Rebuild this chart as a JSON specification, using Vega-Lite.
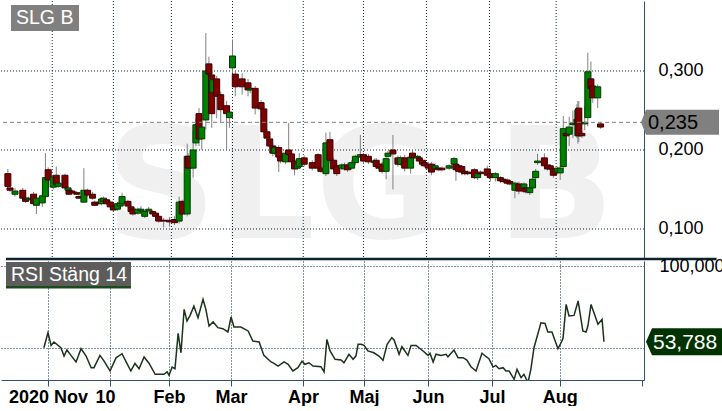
{
  "$schema": "https://vega.github.io/schema/vega-lite/v6.json",
  "background": "#ffffff",
  "padding": 0,
  "bounds": "flush",
  "spacing": 2,
  "config": {
    "view": {"stroke": null},
    "font": "Liberation Sans"
  },
  "datasets": {
    "candles": [
      {"t":0.6,"o":0.170,"h":0.176,"l":0.150,"c":0.154},
      {"t":1.3,"o":0.152,"h":0.155,"l":0.147,"c":0.149},
      {"t":2.9,"o":0.144,"h":0.152,"l":0.141,"c":0.148},
      {"t":5.4,"o":0.149,"h":0.152,"l":0.137,"c":0.139},
      {"t":6.3,"o":0.139,"h":0.141,"l":0.133,"c":0.135},
      {"t":7.3,"o":0.137,"h":0.141,"l":0.135,"c":0.139},
      {"t":8.9,"o":0.144,"h":0.147,"l":0.130,"c":0.132},
      {"t":9.8,"o":0.130,"h":0.145,"l":0.119,"c":0.139},
      {"t":11.7,"o":0.133,"h":0.146,"l":0.128,"c":0.142},
      {"t":12.7,"o":0.141,"h":0.196,"l":0.138,"c":0.165},
      {"t":13.6,"o":0.175,"h":0.178,"l":0.158,"c":0.162},
      {"t":15.2,"o":0.153,"h":0.168,"l":0.150,"c":0.166},
      {"t":16.2,"o":0.168,"h":0.179,"l":0.152,"c":0.156},
      {"t":16.8,"o":0.154,"h":0.160,"l":0.152,"c":0.158},
      {"t":19.0,"o":0.168,"h":0.170,"l":0.150,"c":0.152},
      {"t":20.0,"o":0.149,"h":0.154,"l":0.148,"c":0.152},
      {"t":20.3,"o":0.149,"h":0.151,"l":0.143,"c":0.144},
      {"t":21.3,"o":0.148,"h":0.150,"l":0.144,"c":0.146},
      {"t":22.8,"o":0.146,"h":0.148,"l":0.143,"c":0.144},
      {"t":23.5,"o":0.141,"h":0.143,"l":0.138,"c":0.139},
      {"t":25.1,"o":0.134,"h":0.177,"l":0.133,"c":0.149},
      {"t":26.3,"o":0.149,"h":0.151,"l":0.141,"c":0.143},
      {"t":27.9,"o":0.144,"h":0.147,"l":0.137,"c":0.139},
      {"t":28.6,"o":0.134,"h":0.136,"l":0.129,"c":0.130},
      {"t":29.5,"o":0.133,"h":0.135,"l":0.130,"c":0.132},
      {"t":30.8,"o":0.132,"h":0.140,"l":0.130,"c":0.138},
      {"t":31.4,"o":0.135,"h":0.141,"l":0.133,"c":0.139},
      {"t":32.4,"o":0.137,"h":0.139,"l":0.130,"c":0.132},
      {"t":33.6,"o":0.134,"h":0.136,"l":0.126,"c":0.128},
      {"t":34.6,"o":0.129,"h":0.131,"l":0.122,"c":0.124},
      {"t":35.9,"o":0.125,"h":0.134,"l":0.123,"c":0.132},
      {"t":36.8,"o":0.129,"h":0.135,"l":0.127,"c":0.133},
      {"t":37.4,"o":0.132,"h":0.146,"l":0.130,"c":0.141},
      {"t":39.3,"o":0.135,"h":0.137,"l":0.127,"c":0.129},
      {"t":40.3,"o":0.128,"h":0.130,"l":0.120,"c":0.122},
      {"t":40.9,"o":0.125,"h":0.127,"l":0.117,"c":0.119},
      {"t":42.5,"o":0.120,"h":0.127,"l":0.118,"c":0.125},
      {"t":43.5,"o":0.123,"h":0.129,"l":0.121,"c":0.125},
      {"t":44.7,"o":0.116,"h":0.124,"l":0.114,"c":0.122},
      {"t":46.0,"o":0.123,"h":0.128,"l":0.121,"c":0.125},
      {"t":47.3,"o":0.122,"h":0.124,"l":0.117,"c":0.119},
      {"t":48.2,"o":0.120,"h":0.122,"l":0.114,"c":0.116},
      {"t":49.2,"o":0.116,"h":0.118,"l":0.108,"c":0.110},
      {"t":50.8,"o":0.111,"h":0.114,"l":0.102,"c":0.110},
      {"t":52.7,"o":0.111,"h":0.115,"l":0.103,"c":0.109},
      {"t":54.3,"o":0.112,"h":0.116,"l":0.105,"c":0.108},
      {"t":55.8,"o":0.110,"h":0.141,"l":0.107,"c":0.134},
      {"t":56.8,"o":0.135,"h":0.137,"l":0.117,"c":0.119},
      {"t":58.4,"o":0.119,"h":0.208,"l":0.116,"c":0.192},
      {"t":58.7,"o":0.192,"h":0.196,"l":0.174,"c":0.177},
      {"t":60.3,"o":0.177,"h":0.224,"l":0.165,"c":0.200},
      {"t":61.2,"o":0.209,"h":0.240,"l":0.205,"c":0.232},
      {"t":62.2,"o":0.246,"h":0.253,"l":0.205,"c":0.214},
      {"t":63.1,"o":0.214,"h":0.236,"l":0.200,"c":0.229},
      {"t":64.4,"o":0.238,"h":0.348,"l":0.226,"c":0.300},
      {"t":65.4,"o":0.309,"h":0.318,"l":0.292,"c":0.296},
      {"t":66.3,"o":0.295,"h":0.300,"l":0.228,"c":0.246},
      {"t":66.6,"o":0.273,"h":0.292,"l":0.268,"c":0.289},
      {"t":67.9,"o":0.290,"h":0.294,"l":0.240,"c":0.268},
      {"t":69.2,"o":0.270,"h":0.274,"l":0.235,"c":0.251},
      {"t":71.1,"o":0.256,"h":0.262,"l":0.200,"c":0.246},
      {"t":72.0,"o":0.241,"h":0.255,"l":0.228,"c":0.248},
      {"t":73.0,"o":0.304,"h":0.340,"l":0.297,"c":0.319},
      {"t":73.9,"o":0.296,"h":0.300,"l":0.268,"c":0.280},
      {"t":76.1,"o":0.290,"h":0.297,"l":0.270,"c":0.280},
      {"t":78.0,"o":0.285,"h":0.290,"l":0.268,"c":0.276},
      {"t":78.7,"o":0.276,"h":0.282,"l":0.272,"c":0.278},
      {"t":80.3,"o":0.278,"h":0.281,"l":0.245,"c":0.253},
      {"t":82.2,"o":0.260,"h":0.263,"l":0.240,"c":0.252},
      {"t":83.1,"o":0.252,"h":0.256,"l":0.218,"c":0.223},
      {"t":84.1,"o":0.223,"h":0.226,"l":0.212,"c":0.215},
      {"t":85.0,"o":0.214,"h":0.217,"l":0.202,"c":0.205},
      {"t":86.0,"o":0.205,"h":0.208,"l":0.192,"c":0.196},
      {"t":86.6,"o":0.196,"h":0.206,"l":0.194,"c":0.203},
      {"t":87.9,"o":0.203,"h":0.206,"l":0.172,"c":0.191},
      {"t":88.5,"o":0.191,"h":0.194,"l":0.183,"c":0.186},
      {"t":90.1,"o":0.185,"h":0.199,"l":0.182,"c":0.196},
      {"t":91.1,"o":0.200,"h":0.234,"l":0.190,"c":0.194},
      {"t":92.0,"o":0.195,"h":0.199,"l":0.182,"c":0.185},
      {"t":93.0,"o":0.186,"h":0.188,"l":0.168,"c":0.176},
      {"t":93.9,"o":0.177,"h":0.185,"l":0.175,"c":0.182},
      {"t":94.5,"o":0.179,"h":0.196,"l":0.176,"c":0.189},
      {"t":96.1,"o":0.190,"h":0.193,"l":0.179,"c":0.182},
      {"t":98.7,"o":0.184,"h":0.187,"l":0.174,"c":0.177},
      {"t":100.6,"o":0.194,"h":0.196,"l":0.172,"c":0.177},
      {"t":101.5,"o":0.177,"h":0.180,"l":0.171,"c":0.173},
      {"t":103.1,"o":0.170,"h":0.222,"l":0.167,"c":0.209},
      {"t":104.4,"o":0.213,"h":0.223,"l":0.184,"c":0.187},
      {"t":105.6,"o":0.187,"h":0.190,"l":0.172,"c":0.176},
      {"t":106.6,"o":0.180,"h":0.183,"l":0.167,"c":0.170},
      {"t":108.2,"o":0.177,"h":0.183,"l":0.175,"c":0.181},
      {"t":109.1,"o":0.176,"h":0.184,"l":0.174,"c":0.181},
      {"t":110.1,"o":0.181,"h":0.184,"l":0.172,"c":0.175},
      {"t":111.4,"o":0.177,"h":0.187,"l":0.175,"c":0.184},
      {"t":112.6,"o":0.184,"h":0.194,"l":0.181,"c":0.192},
      {"t":114.2,"o":0.191,"h":0.219,"l":0.188,"c":0.194},
      {"t":115.2,"o":0.194,"h":0.196,"l":0.182,"c":0.186},
      {"t":116.8,"o":0.192,"h":0.195,"l":0.182,"c":0.185},
      {"t":118.7,"o":0.184,"h":0.189,"l":0.182,"c":0.186},
      {"t":119.3,"o":0.187,"h":0.190,"l":0.176,"c":0.179},
      {"t":120.2,"o":0.182,"h":0.184,"l":0.175,"c":0.177},
      {"t":121.2,"o":0.182,"h":0.185,"l":0.170,"c":0.173},
      {"t":122.5,"o":0.173,"h":0.192,"l":0.163,"c":0.189},
      {"t":123.1,"o":0.192,"h":0.199,"l":0.190,"c":0.196},
      {"t":124.7,"o":0.200,"h":0.219,"l":0.150,"c":0.195},
      {"t":126.3,"o":0.190,"h":0.193,"l":0.179,"c":0.182},
      {"t":127.2,"o":0.182,"h":0.193,"l":0.180,"c":0.190},
      {"t":128.5,"o":0.190,"h":0.194,"l":0.173,"c":0.177},
      {"t":130.4,"o":0.177,"h":0.196,"l":0.170,"c":0.191},
      {"t":131.0,"o":0.196,"h":0.200,"l":0.187,"c":0.190},
      {"t":132.6,"o":0.190,"h":0.194,"l":0.188,"c":0.192},
      {"t":133.2,"o":0.190,"h":0.192,"l":0.184,"c":0.186},
      {"t":134.2,"o":0.187,"h":0.189,"l":0.180,"c":0.182},
      {"t":134.8,"o":0.184,"h":0.186,"l":0.178,"c":0.180},
      {"t":136.1,"o":0.182,"h":0.185,"l":0.174,"c":0.177},
      {"t":137.1,"o":0.182,"h":0.185,"l":0.168,"c":0.172},
      {"t":138.3,"o":0.177,"h":0.183,"l":0.175,"c":0.180},
      {"t":139.3,"o":0.177,"h":0.180,"l":0.173,"c":0.175},
      {"t":140.5,"o":0.177,"h":0.179,"l":0.173,"c":0.175},
      {"t":142.8,"o":0.177,"h":0.182,"l":0.175,"c":0.180},
      {"t":144.4,"o":0.182,"h":0.191,"l":0.180,"c":0.189},
      {"t":145.0,"o":0.182,"h":0.185,"l":0.161,"c":0.175},
      {"t":145.9,"o":0.180,"h":0.182,"l":0.171,"c":0.173},
      {"t":146.9,"o":0.179,"h":0.181,"l":0.168,"c":0.172},
      {"t":147.8,"o":0.173,"h":0.175,"l":0.168,"c":0.170},
      {"t":148.8,"o":0.172,"h":0.174,"l":0.168,"c":0.170},
      {"t":151.0,"o":0.175,"h":0.177,"l":0.163,"c":0.165},
      {"t":152.0,"o":0.165,"h":0.172,"l":0.162,"c":0.170},
      {"t":152.9,"o":0.172,"h":0.174,"l":0.168,"c":0.170},
      {"t":155.1,"o":0.176,"h":0.180,"l":0.165,"c":0.168},
      {"t":156.1,"o":0.170,"h":0.172,"l":0.160,"c":0.165},
      {"t":157.7,"o":0.165,"h":0.172,"l":0.160,"c":0.170},
      {"t":159.3,"o":0.165,"h":0.167,"l":0.158,"c":0.161},
      {"t":160.2,"o":0.163,"h":0.165,"l":0.158,"c":0.160},
      {"t":161.5,"o":0.162,"h":0.164,"l":0.156,"c":0.158},
      {"t":162.4,"o":0.160,"h":0.162,"l":0.155,"c":0.157},
      {"t":164.0,"o":0.149,"h":0.160,"l":0.139,"c":0.158},
      {"t":165.3,"o":0.157,"h":0.160,"l":0.144,"c":0.148},
      {"t":166.9,"o":0.152,"h":0.159,"l":0.150,"c":0.157},
      {"t":167.5,"o":0.152,"h":0.154,"l":0.145,"c":0.147},
      {"t":168.8,"o":0.146,"h":0.154,"l":0.143,"c":0.152},
      {"t":169.7,"o":0.152,"h":0.166,"l":0.150,"c":0.163},
      {"t":170.7,"o":0.165,"h":0.176,"l":0.163,"c":0.173},
      {"t":171.3,"o":0.184,"h":0.195,"l":0.181,"c":0.186},
      {"t":173.5,"o":0.190,"h":0.196,"l":0.177,"c":0.180},
      {"t":174.5,"o":0.181,"h":0.183,"l":0.174,"c":0.176},
      {"t":175.4,"o":0.180,"h":0.182,"l":0.174,"c":0.176},
      {"t":176.4,"o":0.176,"h":0.178,"l":0.165,"c":0.168},
      {"t":177.7,"o":0.172,"h":0.179,"l":0.169,"c":0.177},
      {"t":178.6,"o":0.171,"h":0.180,"l":0.162,"c":0.177},
      {"t":179.6,"o":0.179,"h":0.243,"l":0.176,"c":0.227},
      {"t":180.5,"o":0.221,"h":0.225,"l":0.200,"c":0.218},
      {"t":181.5,"o":0.220,"h":0.242,"l":0.205,"c":0.229},
      {"t":182.7,"o":0.232,"h":0.250,"l":0.215,"c":0.234},
      {"t":184.0,"o":0.239,"h":0.258,"l":0.215,"c":0.233},
      {"t":184.3,"o":0.218,"h":0.262,"l":0.208,"c":0.251},
      {"t":184.6,"o":0.253,"h":0.262,"l":0.210,"c":0.218},
      {"t":185.6,"o":0.221,"h":0.224,"l":0.215,"c":0.218},
      {"t":186.5,"o":0.233,"h":0.255,"l":0.225,"c":0.235},
      {"t":187.5,"o":0.241,"h":0.323,"l":0.230,"c":0.299},
      {"t":188.5,"o":0.290,"h":0.312,"l":0.270,"c":0.278},
      {"t":189.1,"o":0.281,"h":0.290,"l":0.260,"c":0.266},
      {"t":190.7,"o":0.266,"h":0.283,"l":0.253,"c":0.280},
      {"t":191.6,"o":0.233,"h":0.235,"l":0.227,"c":0.229}
    ],
    "rsi": [
      {"t":13.6,"r":50.2},{"t":14.9,"r":59.3},{"t":15.9,"r":51.6},{"t":16.8,"r":53.7},
      {"t":19.0,"r":50.2},{"t":20.0,"r":45.1},{"t":20.9,"r":48.8},{"t":22.2,"r":45.5},
      {"t":23.8,"r":41.5},{"t":25.4,"r":49.6},{"t":27.0,"r":45.1},{"t":28.6,"r":38.0},
      {"t":29.5,"r":38.0},{"t":31.4,"r":45.5},{"t":32.7,"r":42.0},{"t":34.6,"r":36.0},
      {"t":36.5,"r":44.0},{"t":38.4,"r":46.5},{"t":39.7,"r":41.5},{"t":41.2,"r":36.0},
      {"t":42.5,"r":40.6},{"t":43.8,"r":37.4},{"t":45.4,"r":44.5},{"t":47.0,"r":40.6},
      {"t":48.9,"r":34.0},{"t":51.7,"r":34.0},{"t":52.7,"r":35.4},{"t":53.3,"r":33.4},
      {"t":54.3,"r":38.4},{"t":55.2,"r":37.4},{"t":56.2,"r":59.0},{"t":57.1,"r":47.1},
      {"t":58.1,"r":73.6},{"t":59.0,"r":66.5},{"t":60.0,"r":69.9},{"t":61.2,"r":75.6},
      {"t":62.5,"r":68.5},{"t":64.1,"r":79.7},{"t":65.0,"r":73.6},{"t":66.0,"r":63.4},
      {"t":67.3,"r":65.9},{"t":68.8,"r":62.4},{"t":70.4,"r":61.8},{"t":72.0,"r":59.8},
      {"t":73.0,"r":68.9},{"t":73.9,"r":62.8},{"t":76.1,"r":62.8},{"t":78.4,"r":60.4},
      {"t":79.9,"r":54.3},{"t":81.9,"r":53.7},{"t":83.4,"r":45.5},{"t":85.7,"r":41.5},
      {"t":86.6,"r":40.6},{"t":87.9,"r":39.0},{"t":89.8,"r":41.5},{"t":91.1,"r":40.1},
      {"t":92.6,"r":36.0},{"t":94.2,"r":38.0},{"t":95.5,"r":42.0},{"t":96.4,"r":40.1},
      {"t":97.7,"r":41.0},{"t":99.0,"r":39.0},{"t":101.5,"r":38.6},{"t":102.5,"r":35.4},
      {"t":103.4,"r":55.3},{"t":104.4,"r":48.2},{"t":106.0,"r":43.1},{"t":107.9,"r":42.7},
      {"t":108.8,"r":41.0},{"t":110.4,"r":46.2},{"t":111.7,"r":43.1},{"t":112.6,"r":45.1},
      {"t":113.3,"r":52.3},{"t":114.2,"r":52.3},{"t":115.2,"r":51.6},{"t":116.4,"r":48.2},
      {"t":118.3,"r":47.1},{"t":119.9,"r":45.1},{"t":121.2,"r":42.5},{"t":122.5,"r":52.3},
      {"t":124.0,"r":56.3},{"t":124.7,"r":54.9},{"t":126.3,"r":46.2},{"t":127.2,"r":50.8},
      {"t":129.1,"r":45.5},{"t":130.1,"r":51.6},{"t":131.7,"r":51.6},{"t":133.9,"r":48.2},
      {"t":135.5,"r":45.5},{"t":136.1,"r":46.8},{"t":137.1,"r":41.5},{"t":138.0,"r":46.2},
      {"t":139.6,"r":45.5},{"t":141.2,"r":46.2},{"t":141.8,"r":44.7},{"t":143.7,"r":48.8},
      {"t":145.0,"r":44.1},{"t":146.6,"r":44.1},{"t":147.8,"r":42.7},{"t":149.1,"r":38.6},
      {"t":150.7,"r":36.0},{"t":152.6,"r":46.8},{"t":153.9,"r":44.7},{"t":154.8,"r":43.5},
      {"t":156.1,"r":38.4},{"t":157.0,"r":39.4},{"t":158.0,"r":37.4},{"t":159.3,"r":38.0},
      {"t":160.2,"r":36.0},{"t":161.2,"r":36.0},{"t":162.8,"r":30.9},{"t":163.7,"r":37.0},
      {"t":165.0,"r":31.9},{"t":165.9,"r":34.0},{"t":167.2,"r":29.0},{"t":168.1,"r":37.0},
      {"t":169.1,"r":50.2},{"t":171.3,"r":65.4},{"t":172.6,"r":65.0},{"t":173.5,"r":59.8},
      {"t":174.8,"r":59.8},{"t":176.7,"r":49.6},{"t":177.7,"r":53.2},{"t":178.3,"r":55.7},
      {"t":179.3,"r":76.6},{"t":180.2,"r":69.5},{"t":181.8,"r":69.9},{"t":183.1,"r":78.7},
      {"t":184.6,"r":60.4},{"t":185.6,"r":59.8},{"t":186.2,"r":63.4},{"t":187.2,"r":76.6},
      {"t":189.4,"r":64.5},{"t":190.7,"r":67.5},{"t":191.3,"r":53.788}
    ]
  },
  "vconcat": [
    {
      "width": 643,
      "height": 258,
      "layer": [
        {
          "data": {"values": [{}]},
          "mark": {"type": "text", "font": "DejaVu Sans", "fontWeight": "bold", "fontSize": 155, "color": "#f0f0f0", "align": "center", "baseline": "alphabetic", "clip": true},
          "encoding": {
            "x": {"datum": 114, "type": "quantitative", "axis": null, "scale": {"domain": [0, 204], "nice": false, "zero": false}},
            "y": {
              "datum": 0.0886, "type": "quantitative", "title": null,
              "scale": {"domain": [0.062, 0.3886], "nice": false, "zero": false},
              "axis": {
                "orient": "right", "values": [0.1, 0.2, 0.3],
                "labelExpr": "replace(format(datum.value, '.3f'), '.', ',')",
                "grid": false, "ticks": false, "domain": true,
                "domainColor": "#34506c", "domainWidth": 1,
                "labelFont": "Liberation Sans", "labelFontSize": 18, "labelColor": "#000000",
                "labelPadding": 14, "labelFlush": false, "labelOverlap": false, "title": null
              }
            },
            "text": {"value": "SLG B"}
          }
        },
        {
          "data": {"values": [{"p": 0.1}, {"p": 0.2}, {"p": 0.3}]},
          "mark": {"type": "rule", "color": "#0b2b3b", "strokeDash": [1, 2], "strokeWidth": 1},
          "encoding": {
            "y": {"field": "p", "type": "quantitative", "title": null}
          }
        },
        {
          "data": {"values": [{"t": 14.9}, {"t": 34.6}, {"t": 53.3}, {"t": 73.0}, {"t": 95.8}, {"t": 115.2}, {"t": 135.5}, {"t": 155.8}, {"t": 177.3}]},
          "mark": {"type": "rule", "color": "#0b2b3b", "strokeDash": [1, 2], "strokeWidth": 1},
          "encoding": {
            "x": {"field": "t", "type": "quantitative", "axis": null}
          }
        },
        {
          "data": {"name": "candles"},
          "mark": {"type": "rule", "color": "#808080", "strokeWidth": 1, "clip": true},
          "encoding": {
            "x": {"field": "t", "type": "quantitative", "axis": null},
            "y": {"field": "h", "type": "quantitative", "title": null},
            "y2": {"field": "l"}
          }
        },
        {
          "data": {"name": "candles"},
          "mark": {"type": "bar", "orient": "vertical", "size": 6, "strokeWidth": 1, "clip": true},
          "encoding": {
            "x": {"field": "t", "type": "quantitative", "axis": null},
            "y": {"field": "o", "type": "quantitative", "title": null},
            "y2": {"field": "c"},
            "color": {"condition": {"test": "datum.c >= datum.o", "value": "#008000"}, "value": "#800000"},
            "stroke": {"condition": {"test": "datum.c >= datum.o", "value": "#003800"}, "value": "#3a0000"}
          }
        },
        {
          "data": {"values": [{}]},
          "mark": {"type": "rule", "color": "#808080", "strokeDash": [4, 3], "strokeWidth": 1},
          "encoding": {
            "y": {"datum": 0.235, "type": "quantitative", "title": null}
          }
        },
        {
          "data": {"values": [{}]},
          "mark": {"type": "point", "shape": "M2,0L7,-12.5L80,-12.5L80,12.5L7,12.5Z", "size": 4, "filled": true, "color": "#808080", "opacity": 1, "strokeWidth": 0},
          "encoding": {
            "x": {"datum": 204, "type": "quantitative", "axis": null},
            "y": {"datum": 0.235, "type": "quantitative", "title": null}
          }
        },
        {
          "data": {"values": [{}]},
          "mark": {"type": "text", "fontSize": 20, "color": "#000000", "align": "left", "baseline": "middle", "dx": 9, "dy": 1},
          "encoding": {
            "x": {"datum": 204, "type": "quantitative", "axis": null},
            "y": {"datum": 0.235, "type": "quantitative", "title": null},
            "text": {"value": "0,235"}
          }
        },
        {
          "data": {"values": [{}]},
          "mark": {"type": "point", "shape": "M5,4L73,4L73,30L5,30Z", "size": 4, "filled": true, "color": "#808080", "opacity": 1, "strokeWidth": 0},
          "encoding": {
            "x": {"datum": 0, "type": "quantitative", "axis": null},
            "y": {"datum": 0.3886, "type": "quantitative", "title": null}
          }
        },
        {
          "data": {"values": [{}]},
          "mark": {"type": "text", "fontSize": 19.5, "color": "#ffffff", "align": "left", "baseline": "alphabetic", "dx": 10, "dy": 23},
          "encoding": {
            "x": {"datum": 0, "type": "quantitative", "axis": null},
            "y": {"datum": 0.3886, "type": "quantitative", "title": null},
            "text": {"value": "SLG B"}
          }
        },
        {
          "data": {"values": [{}]},
          "mark": {"type": "rule", "color": "#0a2433", "strokeWidth": 2.5},
          "encoding": {
            "x": {"datum": 0, "type": "quantitative", "axis": null},
            "x2": {"datum": 229},
            "y": {"datum": 0.062, "type": "quantitative", "title": null}
          }
        }
      ]
    },
    {
      "width": 643,
      "height": 119,
      "layer": [
        {
          "data": {"name": "rsi"},
          "mark": {"type": "line", "color": "#1a331a", "strokeWidth": 1.5, "clip": true},
          "encoding": {
            "x": {
              "field": "t", "type": "quantitative", "title": null,
              "scale": {"domain": [0, 204], "nice": false, "zero": false},
              "axis": {
                "title": null,
                "values": [14.9, 34.6, 53.3, 73.0, 95.8, 115.2, 135.5, 155.8, 177.3, 203.4],
                "labelExpr": "datum.value < 20 ? '2020 Nov' : datum.value < 40 ? '10' : datum.value < 60 ? 'Feb' : datum.value < 80 ? 'Mar' : datum.value < 100 ? 'Apr' : datum.value < 120 ? 'Maj' : datum.value < 140 ? 'Jun' : datum.value < 160 ? 'Jul' : datum.value < 190 ? 'Aug' : ''",
                "labelFont": "Liberation Sans", "labelFontSize": 18, "labelFontWeight": "bold", "labelColor": "#000000",
                "labelPadding": 2, "labelFlush": false, "labelOverlap": false,
                "labelOffset": {"condition": {"test": "datum.value > 30 && datum.value < 40", "value": -5}, "value": 0},
                "tickSize": 6, "tickColor": "#34506c", "domainColor": "#34506c", "domainWidth": 1,
                "grid": true, "gridColor": "#0b2b3b", "gridDash": [1, 2],
                "gridOpacity": {"condition": {"test": "datum.value > 200", "value": 0}, "value": 1}
              }
            },
            "y": {
              "field": "r", "type": "quantitative", "title": null,
              "scale": {"domain": [30.5, 103.05], "nice": false, "zero": false},
              "axis": {
                "title": null, "orient": "right", "values": [50, 100],
                "labelExpr": "datum.value == 100 ? '100,000' : ''",
                "labelFont": "Liberation Sans", "labelFontSize": 18, "labelColor": "#000000",
                "labelPadding": 15, "labelFlush": false, "labelOverlap": false,
                "ticks": false, "domainColor": "#34506c", "domainWidth": 1,
                "grid": true, "gridColor": "#0b2b3b", "gridDash": [1, 2]
              }
            }
          }
        },
        {
          "data": {"values": [{}]},
          "mark": {"type": "point", "shape": "M5,1L130,1L130,25L5,25Z", "size": 4, "filled": true, "color": "#5c5c5c", "opacity": 1, "strokeWidth": 0},
          "encoding": {
            "x": {"datum": 0, "type": "quantitative", "title": null},
            "y": {"datum": 103.05, "type": "quantitative", "title": null}
          }
        },
        {
          "data": {"values": [{}]},
          "mark": {"type": "point", "shape": "M5,25L130,25L130,27.5L5,27.5Z", "size": 4, "filled": true, "color": "#1a4a1a", "opacity": 1, "strokeWidth": 0},
          "encoding": {
            "x": {"datum": 0, "type": "quantitative", "title": null},
            "y": {"datum": 103.05, "type": "quantitative", "title": null}
          }
        },
        {
          "data": {"values": [{}]},
          "mark": {"type": "text", "fontSize": 19.5, "color": "#ffffff", "align": "left", "baseline": "alphabetic", "dx": 10, "dy": 20},
          "encoding": {
            "x": {"datum": 0, "type": "quantitative", "title": null},
            "y": {"datum": 103.05, "type": "quantitative", "title": null},
            "text": {"value": "RSI Stäng 14"}
          }
        },
        {
          "data": {"values": [{}]},
          "mark": {"type": "point", "shape": "M2,0L8,-13.5L80,-13.5L80,13.5L8,13.5Z", "size": 4, "filled": true, "color": "#003300", "opacity": 1, "strokeWidth": 0},
          "encoding": {
            "x": {"datum": 204, "type": "quantitative", "title": null},
            "y": {"datum": 53.788, "type": "quantitative", "title": null}
          }
        },
        {
          "data": {"values": [{}]},
          "mark": {"type": "text", "fontSize": 21, "color": "#ffffff", "align": "left", "baseline": "middle", "dx": 9, "dy": 1},
          "encoding": {
            "x": {"datum": 204, "type": "quantitative", "title": null},
            "y": {"datum": 53.788, "type": "quantitative", "title": null},
            "text": {"value": "53,788"}
          }
        }
      ]
    }
  ]
}
